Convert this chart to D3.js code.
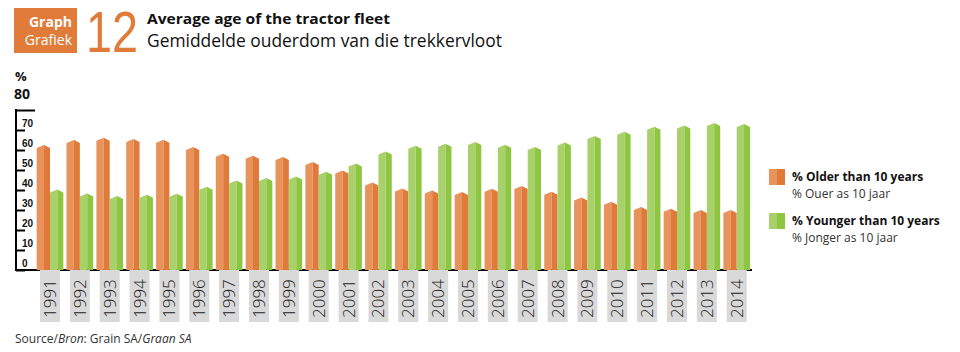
<!DOCTYPE html>
<html>
<head>
<meta charset="utf-8">
<script src="https://cdn.jsdelivr.net/npm/d3@7"></script>
<style>
  body { margin: 0; background: #fff; }
  svg { display: block; font-family: "Open Sans", sans-serif; }
</style>
</head>
<body>
<div id="chart"></div>
<script>
// Data
var years = ["1991", "1992", "1993", "1994", "1995", "1996", "1997", "1998", "1999", "2000", "2001", "2002",
             "2003", "2004", "2005", "2006", "2007", "2008", "2009", "2010", "2011", "2012", "2013", "2014"]
var older = [61, 63.5, 64.6, 64, 63.6, 60, 56.6, 55.6, 55, 52.5, 48.3, 42.3,
             39.3, 38.3, 37.5, 39.1, 40.5, 37.6, 34.8, 32.6, 30, 29.1, 28.5, 28.5]
var younger = [38.8, 36.8, 35.5, 36.1, 36.6, 40.1, 43.3, 44.5, 45.3, 47.6, 51.8, 57.8,
               60.6, 61.6, 62.5, 61.1, 60, 62.3, 65.5, 67.6, 70.1, 70.8, 72, 71.5]
var yTicks = [0, 10, 20, 30, 40, 50, 60, 70, 80]
var seriesKeys = ["older", "younger"]
var legendBold = ["% Older than 10 years", "% Younger than 10 years"]
var legendSub = ["% Ouer as 10 jaar", "% Jonger as 10 jaar"]

var width = 960
var height = 352
// light face, dark face
var colors = {
    older: ["#E9935C", "#E07A3A"],
    younger: ["#A8D16C", "#8EC641"]
}
var orange = "#E07B3A"

var svg = d3.select("#chart")
    .append("svg")
    .attr("width", width)
    .attr("height", height)

// ---- Title block
svg.append("rect")
    .attr("x", 14).attr("y", 8)
    .attr("width", 63).attr("height", 45)
    .attr("fill", orange)

svg.append("text")
    .attr("x", 72).attr("y", 27)
    .attr("text-anchor", "end")
    .attr("fill", "#fff")
    .attr("font-size", 14)
    .attr("font-weight", 700)
    .text("Graph")

svg.append("text")
    .attr("x", 72).attr("y", 45)
    .attr("text-anchor", "end")
    .attr("fill", "#fff")
    .attr("font-size", 14)
    .text("Grafiek")

svg.append("text")
    .attr("x", 86).attr("y", 52)
    .attr("fill", orange)
    .attr("font-family", "'Liberation Sans', sans-serif")
    .attr("font-size", 57)
    .attr("textLength", 52)
    .attr("lengthAdjust", "spacingAndGlyphs")
    .text("12")

svg.append("text")
    .attr("x", 147).attr("y", 24)
    .attr("fill", "#111")
    .attr("font-size", 15)
    .attr("font-weight", 700)
    .attr("textLength", 243)
    .attr("lengthAdjust", "spacingAndGlyphs")
    .text("Average age of the tractor fleet")

svg.append("text")
    .attr("x", 147).attr("y", 47)
    .attr("fill", "#111")
    .attr("font-size", 18)
    .attr("textLength", 355)
    .attr("lengthAdjust", "spacingAndGlyphs")
    .text("Gemiddelde ouderdom van die trekkervloot")

// ---- Scales
var baseY = 270
var yScale = d3.scaleLinear()
    .domain([0, 80])
    .range([baseY, 110])

var xScale = d3.scaleBand()
    .domain(years)
    .range([35.07, 751.63])
    .paddingInner(0.107)
    .paddingOuter(0.0535)

var xSub = d3.scaleBand()
    .domain(seriesKeys)
    .range([0, xScale.bandwidth()])

var axisX = 16

// ---- Y axis
var yAxis = d3.axisLeft(yScale)
    .tickValues(yTicks)
    .tickSizeInner(-9)
    .tickSizeOuter(0)

var yG = svg.append("g")
    .attr("transform", "translate(" + axisX + ",0)")
    .call(yAxis)

yG.select(".domain").remove()
yG.selectAll(".tick line")
    .attr("stroke", "#000")
    .attr("stroke-width", 2)
    .attr("x2", d => d === 80 ? 19 : 9)
yG.selectAll(".tick text")
    .attr("x", 6)
    .attr("dy", -4)
    .attr("text-anchor", "start")
    .attr("font-size", 10)
    .attr("font-weight", 700)
    .attr("fill", "#111")
    .text(d => d === 80 ? "" : d)

yG.append("line")
    .attr("x1", 0).attr("x2", 0)
    .attr("y1", yScale(80) - 1).attr("y2", baseY + 1)
    .attr("stroke", "#000")
    .attr("stroke-width", 2)

svg.append("text")
    .attr("x", 15).attr("y", 81)
    .attr("font-size", 13)
    .attr("font-weight", 700)
    .attr("fill", "#111")
    .text("%")

svg.append("text")
    .attr("x", 14).attr("y", 99)
    .attr("font-size", 14)
    .attr("font-weight", 700)
    .attr("fill", "#111")
    .text("80")

// ---- Baseline
svg.append("line")
    .attr("x1", axisX).attr("x2", 752)
    .attr("y1", baseY).attr("y2", baseY)
    .attr("stroke", "#000")
    .attr("stroke-width", 2)

// ---- Year label boxes
var labelG = svg.append("g")
    .selectAll("g")
    .data(years)
    .join("g")
    .attr("transform", d => "translate(" + (xScale(d) + xScale.bandwidth() / 2) + ",0)")

labelG.append("rect")
    .attr("x", -10).attr("y", baseY)
    .attr("width", 20).attr("height", 52)
    .attr("fill", "#D9D9D9")

labelG.append("text")
    .attr("transform", "translate(6," + (baseY + 48) + ") rotate(-90)")
    .attr("font-size", 17)
    .attr("font-weight", 300)
    .attr("fill", "#222")
    .text(d => d)

// ---- Bars (prism style: light left face, dark right face, pointed cap)
var rows = years.map((y, i) => ({ year: y, older: older[i], younger: younger[i] }))

var groups = svg.append("g")
    .selectAll("g")
    .data(rows)
    .join("g")
    .attr("transform", d => "translate(" + xScale(d.year) + ",0)")

var bars = groups.selectAll("g")
    .data(d => seriesKeys.map(k => ({ key: k, value: d[k] })))
    .join("g")

function facePath(d, side) {
    var x0 = xSub(d.key)
    var w = xSub.bandwidth()
    var x1 = x0 + w
    var px = x0 + w * 0.55
    var top = yScale(d.value)
    var peak = top - 3
    if (side === 0) {
        return "M" + x0 + "," + baseY + "L" + x0 + "," + top + "L" + px + "," + peak + "L" + px + "," + baseY + "Z"
    }
    return "M" + px + "," + baseY + "L" + px + "," + peak + "L" + x1 + "," + top + "L" + x1 + "," + baseY + "Z"
}

bars.append("path")
    .attr("d", d => facePath(d, 0))
    .attr("fill", d => colors[d.key][0])

bars.append("path")
    .attr("d", d => facePath(d, 1))
    .attr("fill", d => colors[d.key][1])

// ---- Legend
var legend = svg.append("g")
    .attr("transform", "translate(769,169)")

seriesKeys.forEach((k, i) => {
    var row = legend.append("g")
        .attr("transform", "translate(0," + (i * 44) + ")")
    row.append("rect")
        .attr("width", 8).attr("height", 16)
        .attr("fill", colors[k][0])
    row.append("rect")
        .attr("x", 8)
        .attr("width", 8).attr("height", 16)
        .attr("fill", colors[k][1])
    row.append("text")
        .attr("x", 23).attr("y", 12)
        .attr("font-size", 12)
        .attr("font-weight", 700)
        .attr("fill", "#111")
        .text(legendBold[i])
    row.append("text")
        .attr("x", 23).attr("y", 29)
        .attr("font-size", 12)
        .attr("fill", "#333")
        .text(legendSub[i])
})

// ---- Source
var src = svg.append("text")
    .attr("x", 15).attr("y", 343)
    .attr("font-size", 12)
    .attr("fill", "#333")
src.append("tspan").text("Source/")
src.append("tspan").attr("font-style", "italic").text("Bron")
src.append("tspan").text(": Grain SA/")
src.append("tspan").attr("font-style", "italic").text("Graan SA")
</script>
</body>
</html>
